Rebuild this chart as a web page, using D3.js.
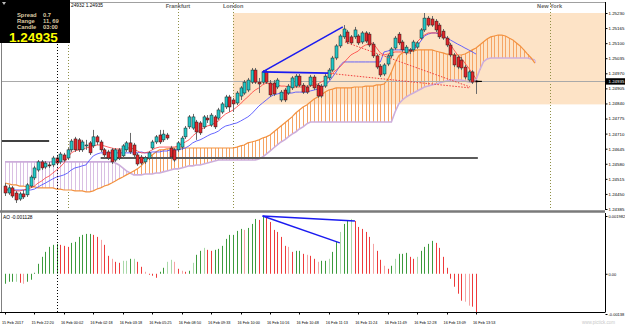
<!DOCTYPE html>
<html>
<head>
<meta charset="utf-8">
<script src="https://cdn.jsdelivr.net/npm/d3@7/dist/d3.min.js"></script>
<style>
  html, body { margin: 0; padding: 0; background: #fff; }
  svg { display: block; font-family: "Liberation Sans", Arial, sans-serif; }
</style>
</head>
<body>
<svg id="chart" width="625" height="328"></svg>
<script>
// ---- data ----
// candles: [open, high, low, close]
const candles = [
  [1.24484,1.24497,1.24441,1.24454],[1.24454,1.24489,1.24446,1.24476],[1.24476,1.24484,1.24433,1.24441],[1.24454,1.24463,1.24411,1.24424],
  [1.24428,1.24459,1.24420,1.24450],[1.24450,1.24467,1.24428,1.24437],[1.24446,1.24497,1.24437,1.24489],[1.24484,1.24532,1.24476,1.24523],
  [1.24519,1.24571,1.24510,1.24562],[1.24553,1.24596,1.24545,1.24588],[1.24588,1.24596,1.24553,1.24562],[1.24566,1.24592,1.24558,1.24583],
  [1.24575,1.24588,1.24562,1.24571],[1.24575,1.24614,1.24566,1.24605],[1.24605,1.24618,1.24575,1.24583],[1.24588,1.24631,1.24579,1.24622],
  [1.24618,1.24627,1.24588,1.24596],[1.24605,1.24648,1.24596,1.24640],[1.24640,1.24687,1.24631,1.24678],[1.24687,1.24696,1.24631,1.24640],
  [1.24683,1.24691,1.24631,1.24640],[1.24640,1.24683,1.24631,1.24674],[1.24657,1.24683,1.24640,1.24661],[1.24670,1.24678,1.24618,1.24627],
  [1.24657,1.24726,1.24648,1.24696],[1.24696,1.24704,1.24661,1.24674],[1.24674,1.24683,1.24631,1.24640],[1.24640,1.24648,1.24605,1.24618],
  [1.24631,1.24640,1.24596,1.24605],[1.24640,1.24648,1.24579,1.24588],[1.24596,1.24648,1.24588,1.24640],[1.24640,1.24648,1.24596,1.24605],
  [1.24614,1.24665,1.24605,1.24657],[1.24640,1.24678,1.24631,1.24670],[1.24670,1.24713,1.24622,1.24631],[1.24661,1.24670,1.24609,1.24618],
  [1.24618,1.24627,1.24571,1.24579],[1.24609,1.24618,1.24575,1.24583],[1.24588,1.24614,1.24579,1.24605],[1.24605,1.24635,1.24596,1.24627],
  [1.24648,1.24683,1.24640,1.24674],[1.24674,1.24704,1.24665,1.24696],[1.24704,1.24726,1.24665,1.24674],[1.24683,1.24726,1.24674,1.24708],
  [1.24704,1.24713,1.24683,1.24691],[1.24648,1.24657,1.24601,1.24609],[1.24640,1.24648,1.24588,1.24596],[1.24640,1.24678,1.24631,1.24670],
  [1.24652,1.24700,1.24640,1.24691],[1.24696,1.24743,1.24687,1.24734],[1.24739,1.24790,1.24730,1.24782],[1.24734,1.24795,1.24726,1.24782],
  [1.24760,1.24769,1.24683,1.24717],[1.24756,1.24764,1.24704,1.24713],[1.24739,1.24790,1.24730,1.24782],[1.24777,1.24790,1.24756,1.24769],
  [1.24747,1.24799,1.24739,1.24790],[1.24782,1.24790,1.24730,1.24739],[1.24777,1.24821,1.24769,1.24812],[1.24803,1.24846,1.24795,1.24838],
  [1.24825,1.24877,1.24816,1.24868],[1.24868,1.24877,1.24803,1.24825],[1.24855,1.24864,1.24803,1.24838],[1.24842,1.24894,1.24833,1.24885],
  [1.24872,1.24915,1.24855,1.24907],[1.24885,1.24941,1.24877,1.24932],[1.24898,1.24950,1.24889,1.24941],[1.24932,1.24993,1.24924,1.24984],
  [1.24984,1.24993,1.24924,1.24932],[1.24932,1.24950,1.24885,1.24924],[1.24932,1.24984,1.24924,1.24976],[1.24976,1.24984,1.24924,1.24932],
  [1.24928,1.24941,1.24868,1.24877],[1.24928,1.24941,1.24872,1.24881],[1.24911,1.24950,1.24902,1.24941],[1.24855,1.24898,1.24846,1.24889],
  [1.24898,1.24907,1.24846,1.24855],[1.24885,1.24924,1.24877,1.24915],[1.24907,1.24958,1.24898,1.24950],[1.24915,1.24967,1.24907,1.24958],
  [1.24958,1.24967,1.24911,1.24919],[1.24919,1.24928,1.24881,1.24889],[1.24911,1.24919,1.24881,1.24889],[1.24919,1.24963,1.24911,1.24954],
  [1.24954,1.24963,1.24898,1.24907],[1.24919,1.24928,1.24864,1.24872],[1.24915,1.24924,1.24864,1.24872],[1.24915,1.24967,1.24907,1.24958],
  [1.24950,1.24993,1.24941,1.24984],[1.24984,1.25045,1.24976,1.25036],[1.25036,1.25096,1.25027,1.25088],[1.25088,1.25139,1.25079,1.25131],
  [1.25127,1.25178,1.25118,1.25161],[1.25148,1.25157,1.25096,1.25105],[1.25127,1.25135,1.25092,1.25101],[1.25127,1.25170,1.25118,1.25157],
  [1.25131,1.25139,1.25092,1.25101],[1.25105,1.25152,1.25096,1.25144],[1.25144,1.25152,1.25101,1.25109],[1.25139,1.25148,1.25083,1.25092],
  [1.25096,1.25105,1.25036,1.25045],[1.25045,1.25053,1.24988,1.24997],[1.25001,1.25010,1.24954,1.24963],[1.24967,1.25014,1.24958,1.25006],
  [1.25010,1.25053,1.25001,1.25045],[1.25045,1.25083,1.25036,1.25075],[1.25079,1.25131,1.25071,1.25122],[1.25139,1.25148,1.25092,1.25101],
  [1.25105,1.25114,1.25062,1.25071],[1.25058,1.25092,1.25049,1.25083],[1.25071,1.25079,1.25053,1.25066],[1.25071,1.25114,1.25062,1.25105],
  [1.25083,1.25109,1.25075,1.25101],[1.25122,1.25165,1.25114,1.25157],[1.25157,1.25230,1.25148,1.25208],[1.25208,1.25217,1.25170,1.25178],
  [1.25204,1.25217,1.25170,1.25178],[1.25195,1.25204,1.25148,1.25157],[1.25178,1.25187,1.25118,1.25127],[1.25152,1.25161,1.25114,1.25122],
  [1.25122,1.25131,1.25083,1.25092],[1.25092,1.25101,1.25040,1.25049],[1.25049,1.25058,1.24997,1.25006],[1.25040,1.25049,1.24988,1.24997],
  [1.25027,1.25040,1.24984,1.24993],[1.24997,1.25006,1.24945,1.24954],[1.24941,1.24984,1.24932,1.24976],[1.24976,1.24984,1.24924,1.24932],
  [1.24937,1.24941,1.24881,1.24935]
];

// Ichimoku lines, one value per bar
const tenkan = [
  1.24471,1.24467,1.24467,1.24463,1.24463,1.24467,1.24471,1.24476,1.24484,1.24497,1.24506,1.24519,1.24527,1.24540,1.24553,1.24566,
  1.24583,1.24605,1.24627,1.24635,1.24640,1.24644,1.24648,1.24652,1.24657,1.24661,1.24661,1.24657,1.24652,1.24648,1.24644,1.24644,
  1.24644,1.24648,1.24648,1.24644,1.24635,1.24627,1.24627,1.24631,1.24640,1.24648,1.24652,1.24652,1.24652,1.24652,1.24652,1.24657,
  1.24665,1.24674,1.24683,1.24700,1.24713,1.24726,1.24734,1.24743,1.24747,1.24756,1.24764,1.24782,1.24795,1.24803,1.24812,1.24825,
  1.24838,1.24855,1.24868,1.24885,1.24898,1.24907,1.24920,1.24928,1.24924,1.24920,1.24920,1.24915,1.24915,1.24911,1.24911,1.24911,
  1.24911,1.24911,1.24915,1.24915,1.24920,1.24924,1.24933,1.24941,1.24954,1.24971,1.24984,1.24997,1.25014,1.25032,1.25049,1.25058,
  1.25066,1.25083,1.25092,1.25096,1.25101,1.25079,1.25058,1.25049,1.25053,1.25058,1.25062,1.25062,1.25062,1.25058,1.25058,1.25071,
  1.25105,1.25122,1.25135,1.25144,1.25144,1.25144,1.25144,1.25135,1.25122,1.25096,1.25071,1.25049,1.25036,1.25014,1.24993,1.24971,
  1.24946
];
const kijun = [
  1.24467,1.24467,1.24467,1.24467,1.24467,1.24467,1.24467,1.24467,1.24471,1.24480,1.24489,1.24497,1.24506,1.24515,1.24523,1.24527,
  1.24532,1.24540,1.24553,1.24562,1.24566,1.24571,1.24575,1.24596,1.24614,1.24622,1.24627,1.24627,1.24627,1.24627,1.24627,1.24627,
  1.24627,1.24627,1.24627,1.24627,1.24627,1.24631,1.24627,1.24627,1.24631,1.24631,1.24631,1.24635,1.24635,1.24640,1.24640,1.24640,
  1.24644,1.24648,1.24657,1.24670,1.24678,1.24683,1.24691,1.24700,1.24708,1.24713,1.24721,1.24734,1.24743,1.24747,1.24752,1.24756,
  1.24764,1.24773,1.24782,1.24795,1.24812,1.24829,1.24842,1.24855,1.24868,1.24877,1.24881,1.24885,1.24885,1.24885,1.24885,1.24889,
  1.24889,1.24889,1.24889,1.24894,1.24898,1.24902,1.24907,1.24920,1.24933,1.24954,1.24976,1.25002,1.25019,1.25019,1.25019,1.25019,
  1.25019,1.25019,1.25019,1.25019,1.25019,1.25019,1.25019,1.25062,1.25066,1.25071,1.25071,1.25071,1.25071,1.25071,1.25071,1.25071,
  1.25088,1.25109,1.25131,1.25139,1.25144,1.25144,1.25139,1.25131,1.25122,1.25114,1.25105,1.25096,1.25088,1.25079,1.25071,1.25062,
  1.25053
];
// Senkou spans, already shifted forward (145 points)
const spanA = [
  1.24497,1.24493,1.24489,1.24489,1.24484,1.24484,1.24480,1.24480,1.24480,1.24476,1.24476,1.24476,1.24476,1.24476,1.24471,1.24471,
  1.24467,1.24467,1.24467,1.24463,1.24463,1.24463,1.24459,1.24459,1.24463,1.24471,1.24476,1.24484,1.24489,1.24497,1.24506,1.24515,
  1.24523,1.24532,1.24540,1.24549,1.24558,1.24571,1.24588,1.24605,1.24618,1.24631,1.24640,1.24640,1.24644,1.24644,1.24648,1.24648,
  1.24648,1.24648,1.24648,1.24648,1.24648,1.24648,1.24648,1.24648,1.24648,1.24648,1.24648,1.24648,1.24648,1.24648,1.24648,1.24652,
  1.24657,1.24661,1.24670,1.24674,1.24678,1.24683,1.24691,1.24696,1.24704,1.24717,1.24730,1.24743,1.24756,1.24769,1.24782,1.24799,
  1.24812,1.24825,1.24833,1.24846,1.24859,1.24868,1.24877,1.24889,1.24898,1.24902,1.24907,1.24907,1.24907,1.24907,1.24907,1.24911,
  1.24911,1.24911,1.24915,1.24915,1.24915,1.24920,1.24920,1.24924,1.24941,1.24976,1.25014,1.25045,1.25058,1.25062,1.25066,1.25066,
  1.25071,1.25071,1.25071,1.25071,1.25071,1.25066,1.25062,1.25058,1.25053,1.25053,1.25049,1.25049,1.25049,1.25053,1.25062,1.25071,
  1.25079,1.25092,1.25105,1.25118,1.25127,1.25131,1.25135,1.25135,1.25131,1.25122,1.25114,1.25101,1.25088,1.25071,1.25053,1.25036,
  1.25014
];
const spanB = [
  1.24588,1.24588,1.24588,1.24588,1.24588,1.24588,1.24588,1.24588,1.24588,1.24588,1.24588,1.24588,1.24588,1.24588,1.24588,1.24588,
  1.24588,1.24588,1.24588,1.24588,1.24588,1.24588,1.24588,1.24588,1.24588,1.24588,1.24588,1.24588,1.24588,1.24588,1.24583,1.24575,
  1.24562,1.24549,1.24540,1.24532,1.24532,1.24532,1.24536,1.24536,1.24536,1.24540,1.24540,1.24545,1.24549,1.24553,1.24558,1.24558,
  1.24562,1.24566,1.24571,1.24571,1.24575,1.24575,1.24579,1.24583,1.24588,1.24592,1.24596,1.24596,1.24596,1.24596,1.24596,1.24596,
  1.24596,1.24596,1.24596,1.24596,1.24596,1.24601,1.24609,1.24622,1.24635,1.24648,1.24661,1.24674,1.24683,1.24696,1.24708,1.24717,
  1.24730,1.24739,1.24752,1.24760,1.24760,1.24760,1.24760,1.24760,1.24760,1.24760,1.24760,1.24760,1.24760,1.24760,1.24760,1.24760,
  1.24760,1.24760,1.24760,1.24760,1.24760,1.24760,1.24760,1.24760,1.24760,1.24760,1.24803,1.24838,1.24855,1.24868,1.24877,1.24885,
  1.24894,1.24902,1.24911,1.24915,1.24920,1.24924,1.24928,1.24933,1.24937,1.24941,1.24941,1.24941,1.24941,1.24937,1.24933,1.24933,
  1.24941,1.24984,1.25019,1.25032,1.25036,1.25036,1.25036,1.25036,1.25036,1.25036,1.25036,1.25036,1.25036,1.25036,1.25036,1.25032,
  1.25027
];

// Awesome Oscillator
const aoValues = [
  -0.000342,-0.000274,-0.000274,-0.000274,-0.000308,-0.000342,-0.000274,-0.000205,0.000034,0.000342,0.000581,0.000752,0.000923,0.000992,0.001026,0.000992,
  0.000958,0.000923,0.001060,0.001094,0.001265,0.001334,0.001368,0.001368,0.001334,0.001265,0.001163,0.000992,0.000616,0.000513,0.000410,0.000376,
  0.000445,0.000445,0.000513,0.000513,0.000410,0.000239,0.000068,-0.000034,-0.000068,-0.000137,0.000068,0.000205,0.000410,0.000479,0.000410,0.000171,
  0.000103,0.000068,0.000103,0.000376,0.000650,0.000787,0.000889,0.000821,0.000787,0.000821,0.000855,0.000958,0.001197,0.001334,0.001334,0.001471,
  0.001539,0.001505,0.001573,0.001710,0.001881,0.001847,0.001982,0.001915,0.001778,0.001505,0.001436,0.001265,0.000958,0.000923,0.000752,0.000787,
  0.000787,0.000684,0.000650,0.000616,0.000513,0.000410,0.000445,0.000445,0.000513,0.000752,0.001094,0.001436,0.001710,0.001813,0.001881,0.001813,
  0.001607,0.001539,0.001436,0.001265,0.001026,0.000787,0.000479,0.000274,0.000171,0.000274,0.000513,0.000684,0.000684,0.000718,0.000581,0.000513,
  0.000581,0.000787,0.000923,0.001026,0.001129,0.001060,0.000889,0.000581,0.000205,-0.000171,-0.000445,-0.000684,-0.000923,-0.000958,-0.001094,-0.001129,
  -0.00138
];
const aoPaleBars = [3,5,26,29,32,33,35,38,44,45,46,48,51,54,65,77,82,85,88,91,94,100,103,106,112,125,126];

const priceTicks = [1.25230,1.25165,1.25100,1.25035,1.24970,1.24905,1.24840,1.24775,1.24710,1.24645,1.24580,1.24515,1.24450,1.24385];
const currentPrice = 1.24935;
const aoTicks = [0.001982, 0, -0.00138];
const aoTickLabels = ["0.001982", "0.00", "-0.00138"];
const timeLabels = ["15 Feb 2017","15 Feb 22:20","16 Feb 00:02","16 Feb 02:18","16 Feb 03:18","16 Feb 05:25","16 Feb 08:50",
  "16 Feb 09:33","16 Feb 10:00","16 Feb 10:16","16 Feb 10:48","16 Feb 11:13","16 Feb 11:24","16 Feb 11:49","16 Feb 12:28",
  "16 Feb 13:09","16 Feb 13:53"];
const sessions = [{name: "", bar: 17}, {name: "Frankfurt", bar: 47}, {name: "London", bar: 62}, {name: "New York", bar: 148}];
const dayBreakBar = 14;
const infoRows = [["Spread", "0.7"], ["Range", "11, 69"], ["Candle", "03:00"]];
const hLines = [{price: 1.24678, from: -1.4, to: 12, color: "#000", w: 1.6}, {price: 1.24605, from: 26, to: 128.5, color: "#5a5a5a", w: 2}];
const trendLines = [[70, 1.24976, 91.8, 1.25170], [70, 1.24976, 87.8, 1.24971]];
const dottedLines = [[87.5, 1.24971, 126.4, 1.24907], [92.4, 1.25105, 126.4, 1.24911]];
const aoTrendLines = [[70, 0.001982, 95.1, 0.00181], [70, 0.001982, 91, 0.00106]];

// ---- layout ----
const svg = d3.select("#chart");
const right = 605, mainTop = 3, mainBottom = 210, aoTop = 213, aoBottom = 312;
const axisFont = 4.4;

const x = d3.scaleLinear().domain([0, 128]).range([5, 476]);
const y = d3.scaleLinear().domain([1.24385, 1.25230]).range([209, 13]);
const yAo = d3.scaleLinear().domain([-0.00138, 0.001982]).range([314, 216]);

const defs = svg.append("defs");
defs.append("clipPath").attr("id", "clipMain").append("rect")
  .attr("x", 2).attr("y", mainTop).attr("width", right - 2).attr("height", mainBottom - mainTop);
defs.append("clipPath").attr("id", "clipAo").append("rect")
  .attr("x", 2).attr("y", aoTop).attr("width", right - 2).attr("height", aoBottom - aoTop);

const main = svg.append("g").attr("clip-path", "url(#clipMain)");

// London session box
main.append("rect")
  .attr("x", x(sessions[2].bar)).attr("y", y(1.25230))
  .attr("width", right - x(sessions[2].bar)).attr("height", y(1.24836) - y(1.25230))
  .attr("fill", "#fde3c6");

// session separators
main.selectAll("line.sess").data(sessions).join("line")
  .attr("x1", d => Math.round(x(d.bar)) + 0.5).attr("x2", d => Math.round(x(d.bar)) + 0.5)
  .attr("y1", mainTop).attr("y2", mainBottom)
  .attr("stroke", "#8f8f45").attr("stroke-width", 1).attr("stroke-dasharray", "1,2");

// cloud hatching
const cloud = main.append("g");
cloud.selectAll("line").data(spanA).join("line")
  .attr("x1", (d, i) => Math.round(x(i)) + 0.5).attr("x2", (d, i) => Math.round(x(i)) + 0.5)
  .attr("y1", d => y(d)).attr("y2", (d, i) => y(spanB[i]))
  .attr("stroke", (d, i) => d >= spanB[i] ? "#f6a565" : "#d9bfe3")
  .attr("stroke-width", 1);

const spanLine = d3.line().x((d, i) => x(i)).y(d => y(d));
main.append("path").datum(spanB).attr("d", spanLine)
  .attr("fill", "none").attr("stroke", "#cdaedb").attr("stroke-width", 1.6);
main.append("path").datum(spanA).attr("d", spanLine)
  .attr("fill", "none").attr("stroke", "#f3913f").attr("stroke-width", 1.2);

// current price line
main.append("line").attr("x1", 0).attr("x2", right)
  .attr("y1", Math.round(y(currentPrice)) + 0.5).attr("y2", Math.round(y(currentPrice)) + 0.5)
  .attr("stroke", "#a9a9a9").attr("stroke-width", 1);

// horizontal levels
main.selectAll("line.lvl").data(hLines).join("line")
  .attr("x1", d => x(d.from)).attr("x2", d => x(d.to))
  .attr("y1", d => y(d.price)).attr("y2", d => y(d.price))
  .attr("stroke", d => d.color).attr("stroke-width", d => d.w);

// Tenkan / Kijun
main.append("path").datum(kijun).attr("d", spanLine)
  .attr("fill", "none").attr("stroke", "#5555ff").attr("stroke-width", 0.9);
main.append("path").datum(tenkan).attr("d", spanLine)
  .attr("fill", "none").attr("stroke", "#ff3b3b").attr("stroke-width", 0.8);

// candles
const cg = main.append("g").selectAll("g").data(candles).join("g");
cg.append("line")
  .attr("x1", (d, i) => Math.round(x(i)) + 0.5).attr("x2", (d, i) => Math.round(x(i)) + 0.5)
  .attr("y1", d => y(d[1])).attr("y2", d => y(d[2]))
  .attr("stroke", "#6a6a6a").attr("stroke-width", 1);
cg.append("rect")
  .attr("x", (d, i) => Math.round(x(i)) - 1)
  .attr("y", d => y(Math.max(d[0], d[3])))
  .attr("width", 3)
  .attr("height", d => Math.max(1, Math.abs(y(d[0]) - y(d[3]))))
  .attr("fill", d => d[3] >= d[0] ? "#22c7c7" : "#e3262a")
  .attr("stroke", "#1a1a1a").attr("stroke-width", 0.5);

// current bar marker
main.append("line")
  .attr("x1", x(128)).attr("x2", x(129.6))
  .attr("y1", y(currentPrice)).attr("y2", y(currentPrice))
  .attr("stroke", "#000").attr("stroke-width", 1.2);

// red dotted and blue trend lines
main.selectAll("line.dot").data(dottedLines).join("line")
  .attr("x1", d => x(d[0])).attr("y1", d => y(d[1])).attr("x2", d => x(d[2])).attr("y2", d => y(d[3]))
  .attr("stroke", "#f03c3c").attr("stroke-width", 1).attr("stroke-dasharray", "1.5,1.5");
main.selectAll("line.tl").data(trendLines).join("line")
  .attr("x1", d => x(d[0])).attr("y1", d => y(d[1])).attr("x2", d => x(d[2])).attr("y2", d => y(d[3]))
  .attr("stroke", "#1b1bf0").attr("stroke-width", 1.6);

// ---- AO panel ----
const ao = svg.append("g").attr("clip-path", "url(#clipAo)");
const pale = new Set(aoPaleBars);
ao.selectAll("line").data(aoValues).join("line")
  .attr("x1", (d, i) => Math.round(x(i)) + 0.5).attr("x2", (d, i) => Math.round(x(i)) + 0.5)
  .attr("y1", yAo(0)).attr("y2", d => yAo(d))
  .attr("stroke", (d, i) => {
    const up = i === 0 || d >= aoValues[i - 1];
    if (pale.has(i)) return up ? "#a9d9a9" : "#f5a3a3";
    return up ? "#3c9a3c" : "#ee3b3b";
  })
  .attr("stroke-width", 1);
ao.selectAll("line.aotl").data(aoTrendLines).join("line")
  .attr("x1", d => x(d[0])).attr("y1", d => yAo(d[1])).attr("x2", d => x(d[2])).attr("y2", d => yAo(d[3]))
  .attr("stroke", "#1b1bf0").attr("stroke-width", 1.4);

// day break (both panels)
svg.append("line")
  .attr("x1", Math.round(x(dayBreakBar)) + 0.5).attr("x2", Math.round(x(dayBreakBar)) + 0.5)
  .attr("y1", 44).attr("y2", aoBottom)
  .attr("stroke", "#000").attr("stroke-width", 1).attr("stroke-dasharray", "1,2");

// ---- frames ----
svg.append("line").attr("x1", 1.5).attr("x2", 1.5).attr("y1", 2).attr("y2", aoBottom).attr("stroke", "#808080");
svg.append("line").attr("x1", 0).attr("x2", right).attr("y1", 2.5).attr("y2", 2.5).attr("stroke", "#a0a0a0");
svg.append("line").attr("x1", 0).attr("x2", right).attr("y1", 211.5).attr("y2", 211.5).attr("stroke", "#7a7a7a").attr("stroke-width", 2.5);
svg.append("line").attr("x1", 0).attr("x2", right + 0.5).attr("y1", aoBottom + 0.5).attr("y2", aoBottom + 0.5).attr("stroke", "#000");

// price axis
const pAxis = svg.append("g").attr("transform", `translate(${right + 0.5},0)`)
  .call(d3.axisRight(y).tickValues(priceTicks).tickSize(2).tickPadding(1).tickFormat(d3.format(".5f")));
pAxis.select(".domain").attr("stroke", "#000").attr("d", `M0,2V${mainBottom}`);
pAxis.selectAll("text").attr("font-size", axisFont).attr("fill", "#000").attr("font-family", "Liberation Sans, Arial");

// AO axis
const aAxis = svg.append("g").attr("transform", `translate(${right + 0.5},0)`)
  .call(d3.axisRight(yAo).tickValues(aoTicks).tickSize(2).tickPadding(1).tickFormat((d, i) => aoTickLabels[i]));
aAxis.select(".domain").attr("stroke", "#000").attr("d", `M0,${aoTop}V${aoBottom}`);
aAxis.selectAll("text").attr("font-size", 4.0).attr("fill", "#000").attr("font-family", "Liberation Sans, Arial");

// current price tag
const tag = svg.append("g").attr("transform", `translate(${right + 1},${y(currentPrice)})`);
tag.append("rect").attr("x", 0).attr("y", -3.2).attr("width", 19).attr("height", 6.4).attr("fill", "#000");
tag.append("text").attr("x", 2.5).attr("y", 1.6).attr("font-size", axisFont).attr("fill", "#fff").text(d3.format(".5f")(currentPrice));

// time axis
svg.append("g").selectAll("text").data(timeLabels).join("text")
  .attr("x", (d, i) => x(i * 8) - 3).attr("y", 324)
  .attr("font-size", 3.8).attr("fill", "#000").text(d => d);
svg.append("g").selectAll("line").data(timeLabels).join("line")
  .attr("x1", (d, i) => Math.round(x(i * 8)) + 0.5).attr("x2", (d, i) => Math.round(x(i * 8)) + 0.5)
  .attr("y1", aoBottom).attr("y2", aoBottom + 2.5).attr("stroke", "#000");

// session names
svg.append("g").selectAll("text").data(sessions.filter(s => s.name)).join("text")
  .attr("x", d => x(d.bar)).attr("y", 8).attr("text-anchor", "middle")
  .attr("font-size", 5.6).attr("font-weight", "bold").attr("fill", "#666").text(d => d.name);

// AO label
svg.append("text").attr("x", 3).attr("y", 219).attr("font-size", 4.8).attr("fill", "#000")
  .text("AO -0.001128");

// title remnant
svg.append("text").attr("x", 71).attr("y", 7).attr("font-size", 4.8).attr("fill", "#000")
  .text("24932 1.24935");

// info box
const box = svg.append("g");
box.append("rect").attr("x", 0).attr("y", 0).attr("width", 70).attr("height", 43).attr("fill", "#000");
box.append("path").attr("d", "M2,2h4l-2,3z").attr("fill", "#bbb");
box.selectAll("text.k").data(infoRows).join("text")
  .attr("x", 17).attr("y", (d, i) => 17 + i * 5.8)
  .attr("font-size", 5.8).attr("font-weight", "bold").attr("fill", "#dcc9a2").text(d => d[0]);
box.selectAll("text.v").data(infoRows).join("text")
  .attr("x", 43).attr("y", (d, i) => 17 + i * 5.8)
  .attr("font-size", 5.8).attr("font-weight", "bold").attr("fill", "#dcc9a2").text(d => d[1]);
box.append("text").attr("x", 9).attr("y", 42).attr("font-size", 13.5).attr("font-weight", "bold")
  .attr("fill", "#ffff00").text(d3.format(".5f")(currentPrice));

// watermark
svg.append("text").attr("x", 582).attr("y", 324).attr("font-size", 4.5).attr("fill", "#c8c8c8").text("www.pictick.com");
</script>
</body>
</html>
